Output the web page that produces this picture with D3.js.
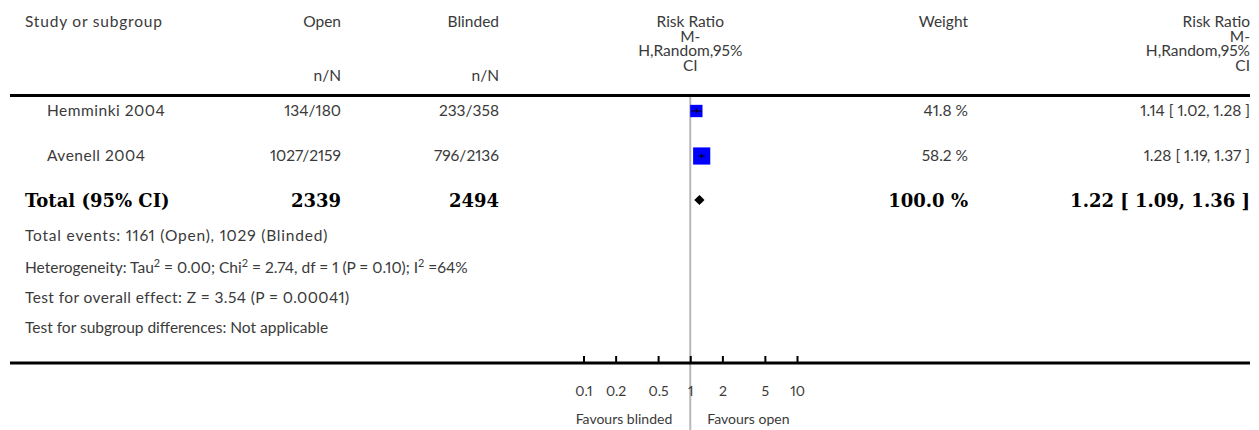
<!DOCTYPE html>
<html>
<head>
<meta charset="utf-8">
<script src="https://cdn.jsdelivr.net/npm/d3@7"></script>
<style>
  html, body { margin: 0; padding: 0; background: #fff; }
  svg { display: block; }
  text { font-family: "Lato", "Open Sans", sans-serif; fill: #3a3a3a; font-variant-numeric: proportional-nums; }
  text.bold { font-family: "DejaVu Serif", "Liberation Serif", serif; font-weight: bold; fill: #000; }
</style>
</head>
<body>
<svg id="plot" width="1259" height="430"></svg>
<script>
// Study rows
const studies      = ["Hemminki 2004", "Avenell 2004"];
const openEvents   = [134, 1027];
const openTotals   = [180, 2159];
const blindEvents  = [233, 796];
const blindTotals  = [358, 2136];
const riskRatios   = [1.14, 1.28];
const ciLower      = [1.02, 1.19];
const ciUpper      = [1.28, 1.37];
const weights      = [41.8, 58.2];

// Pooled estimate
const totalLabel   = "Total (95% CI)";
const totalOpenN   = 2339;
const totalBlindN  = 2494;
const totalRR      = 1.22;
const totalLower   = 1.09;
const totalUpper   = 1.36;
const totalWeight  = 100.0;

// Axis
const axisTicks    = [0.1, 0.2, 0.5, 1, 2, 5, 10];
const axisTickText = ["0.1", "0.2", "0.5", "1", "2", "5", "10"];
const favourLeft   = "Favours blinded";
const favourRight  = "Favours open";

const svg = d3.select("#plot");
const f2 = d3.format(".2f");
const f1 = d3.format(".1f");

// Column anchors
const colStudy = 25, colStudyIndent = 47, colOpen = 341, colBlind = 499,
      colWeight = 968, colRR = 1250, lineLeft = 10, lineRight = 1250;

const x = d3.scaleLog().domain([0.1, 10]).range([583.5, 797]);
const boxSize = d3.scaleLinear().domain([0, 100]).range([0, 29.5]);

const rowY = d3.scalePoint().domain(studies).range([111, 156]);
const totalY = 200;

// Header
const hdr = svg.append("g").attr("font-size", 15.5);
hdr.append("text").attr("x", colStudy).attr("y", 27).attr("letter-spacing", 0.8).text("Study or subgroup");
hdr.append("text").attr("x", colOpen).attr("y", 27).attr("text-anchor", "end").text("Open");
hdr.append("text").attr("x", colBlind).attr("y", 27).attr("text-anchor", "end").text("Blinded");
hdr.append("text").attr("x", colOpen).attr("y", 81).attr("text-anchor", "end").text("n/N");
hdr.append("text").attr("x", colBlind).attr("y", 81).attr("text-anchor", "end").text("n/N");
hdr.append("text").attr("x", colWeight).attr("y", 27).attr("text-anchor", "end").text("Weight");

// Multi-line effect-measure headings
const rrHead = ["Risk Ratio", "M-", "H,Random,95%", "CI"];
[[x(1), "middle"], [colRR, "end"]].forEach(([cx, anchor]) => {
  const t = hdr.append("text").attr("y", 27).attr("text-anchor", anchor);
  rrHead.forEach((line, i) => {
    t.append("tspan").attr("x", cx).attr("dy", i === 0 ? 0 : 14.5).text(line);
  });
});

// Rules
svg.append("line").attr("x1", lineLeft).attr("x2", lineRight)
  .attr("y1", 95.5).attr("y2", 95.5).attr("stroke", "#000").attr("stroke-width", 3);

// Line of no effect
svg.append("line").attr("x1", x(1)).attr("x2", x(1))
  .attr("y1", 97).attr("y2", 430).attr("stroke", "#b8b8b8").attr("stroke-width", 2);

// Study rows
const rows = svg.append("g").attr("font-size", 15.5);
studies.forEach((s, i) => {
  const y = rowY(s);
  rows.append("text").attr("x", colStudyIndent).attr("y", y + 5).attr("letter-spacing", 0.5).text(s);
  rows.append("text").attr("x", colOpen).attr("y", y + 5).attr("text-anchor", "end")
    .text(openEvents[i] + "/" + openTotals[i]);
  rows.append("text").attr("x", colBlind).attr("y", y + 5).attr("text-anchor", "end")
    .text(blindEvents[i] + "/" + blindTotals[i]);
  rows.append("text").attr("x", colWeight).attr("y", y + 5).attr("text-anchor", "end")
    .text(f1(weights[i]) + " %");
  rows.append("text").attr("x", colRR).attr("y", y + 5).attr("text-anchor", "end")
    .text(f2(riskRatios[i]) + " [ " + f2(ciLower[i]) + ", " + f2(ciUpper[i]) + " ]");

  const sz = boxSize(weights[i]);
  rows.append("rect")
    .attr("x", x(riskRatios[i]) - sz / 2).attr("y", y - sz / 2)
    .attr("width", sz).attr("height", sz).attr("fill", "#0000ff");
  rows.append("line")
    .attr("x1", x(ciLower[i])).attr("x2", x(ciUpper[i]))
    .attr("y1", y).attr("y2", y).attr("stroke", "#000").attr("stroke-width", 1);
  rows.append("line")
    .attr("x1", x(riskRatios[i])).attr("x2", x(riskRatios[i]))
    .attr("y1", y - 2.5).attr("y2", y + 2.5).attr("stroke", "#000").attr("stroke-width", 1);
});

// Pooled row
const tot = svg.append("g").attr("font-size", 18);
const boldText = (xx, anchor, str) => tot.append("text").attr("class", "bold")
  .attr("x", xx).attr("y", totalY + 7).attr("text-anchor", anchor).text(str);
boldText(colStudy, "start", totalLabel);
boldText(colOpen, "end", totalOpenN);
boldText(colBlind, "end", totalBlindN);
boldText(colWeight, "end", f1(totalWeight) + " %");
boldText(colRR, "end", f2(totalRR) + " [ " + f2(totalLower) + ", " + f2(totalUpper) + " ]");

svg.append("path")
  .attr("d", `M${x(totalLower)},${totalY} L${x(totalRR)},${totalY - 5} L${x(totalUpper)},${totalY} L${x(totalRR)},${totalY + 5} Z`)
  .attr("fill", "#000");

// Footnotes
const notes = svg.append("g").attr("font-size", 15.5);
notes.append("text").attr("x", colStudy).attr("y", 241).attr("letter-spacing", 0.8)
  .text("Total events: 1161 (Open), 1029 (Blinded)");
const het = notes.append("text").attr("x", colStudy).attr("y", 273);
const sup = (t) => het.append("tspan").attr("font-size", 11).attr("dy", -6).text(t);
const norm = (t) => het.append("tspan").attr("dy", 6).text(t);
het.append("tspan").text("Heterogeneity: Tau");
sup("2"); norm(" = 0.00; Chi");
sup("2"); norm(" = 2.74, df = 1 (P = 0.10); I");
sup("2"); norm(" =64%");
notes.append("text").attr("x", colStudy).attr("y", 303).attr("letter-spacing", 0.4)
  .text("Test for overall effect: Z = 3.54 (P = 0.00041)");
notes.append("text").attr("x", colStudy).attr("y", 333)
  .text("Test for subgroup differences: Not applicable");

// Axis
const axisY = 363;
svg.append("line").attr("x1", lineLeft).attr("x2", lineRight)
  .attr("y1", axisY).attr("y2", axisY).attr("stroke", "#000").attr("stroke-width", 3);

const axis = d3.axisBottom(x)
  .tickValues(axisTicks)
  .tickFormat((d, i) => axisTickText[i])
  .tickSize(-7)
  .tickPadding(23);
const ag = svg.append("g").attr("transform", `translate(0,${axisY})`).call(axis);
ag.select(".domain").remove();
ag.selectAll(".tick line").attr("stroke", "#000").attr("stroke-width", 2);
ag.selectAll(".tick text").attr("font-size", 14).attr("fill", "#3a3a3a")
  .attr("font-family", "Lato, 'Open Sans', sans-serif");

svg.append("text").attr("x", x(1) - 18).attr("y", 424).attr("font-size", 14)
  .attr("text-anchor", "end").text(favourLeft);
svg.append("text").attr("x", x(1) + 17).attr("y", 424).attr("font-size", 14)
  .text(favourRight);
</script>
</body>
</html>
